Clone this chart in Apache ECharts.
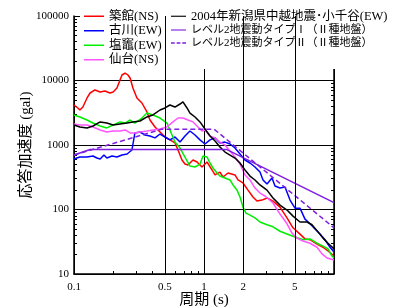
<!DOCTYPE html>
<html>
<head>
<meta charset="utf-8">
<script src="https://cdn.jsdelivr.net/npm/echarts@6.0.0/dist/echarts.min.js"></script>
<style>
html, body { margin: 0; padding: 0; background: #fff; }
#chart { width: 393px; height: 307px; }
</style>
</head>
<body>
<div id="chart"></div>
<script>
// 凡例の名前と色
const seriesNames = [
	"築館(NS)", "古川(EW)", "塩竈(EW)", "仙台(NS)",
	"2004年新潟県中越地震･小千谷(EW)",
	"レベル2地震動タイプⅠ（Ⅱ種地盤）",
	"レベル2地震動タイプⅡ（Ⅱ種地盤）"
]
const seriesColors = ["#ff0000", "#0000ff", "#00ee00", "#ff55ff", "#000000", "#7f1fdf", "#7f1fdf"]

// [周期(s), 応答加速度(gal)]
const tsukidate = [[0.1,4170],[0.107,3750],[0.111,3490],[0.117,3880],[0.126,5360],[0.133,6400],[0.145,7130],[0.159,6640],[0.173,6880],[0.189,6400],[0.2,6640],[0.214,7650],[0.226,10180],[0.234,12170],[0.247,13060],[0.26,12170],[0.27,10940],[0.284,7650],[0.305,5360],[0.333,4480],[0.364,3250],[0.384,2440],[0.42,1900],[0.459,1590],[0.501,1330],[0.547,1200],[0.598,1075],[0.631,836],[0.677,585],[0.714,507],[0.753,490],[0.823,585],[0.884,545],[0.965,456],[1.055,545],[1.152,410],[1.216,343],[1.327,381],[1.4,319],[1.53,368],[1.731,343],[1.826,287],[1.995,258],[2.18,200],[2.381,156],[2.556,135],[2.793,140],[3.052,151],[3.395,135],[3.843,109],[4.35,74],[4.838,52],[5.476,41.5],[5.984,35],[6.538,34],[7.401,29],[8.232,26],[8.994,22.8],[10,19]]
const furukawa = [[0.1,606],[0.111,651],[0.126,651],[0.14,675],[0.15,628],[0.159,606],[0.17,699],[0.179,628],[0.196,675],[0.214,651],[0.234,699],[0.256,725],[0.279,836],[0.294,1540],[0.322,1590],[0.352,1430],[0.384,1380],[0.42,1290],[0.459,1480],[0.501,1330],[0.547,1200],[0.598,1330],[0.654,1110],[0.714,1380],[0.78,1650],[0.853,1430],[0.931,1200],[1.018,1037],[1.112,1200],[1.216,1290],[1.327,1075],[1.451,1110],[1.585,1037],[1.731,898],[1.892,725],[2.067,585],[2.258,526],[2.467,456],[2.696,381],[2.844,287],[3.052,249],[3.335,308],[3.517,231],[3.843,215],[4.199,223],[4.588,140],[5.012,105],[5.476,105],[5.984,71],[6.538,60],[7.144,50],[7.805,41.7],[8.528,34],[9.318,26],[10,22]]
const shiogama = [[0.1,2920],[0.111,2720],[0.126,2440],[0.14,2190],[0.159,1970],[0.179,1840],[0.2,2040],[0.226,2280],[0.247,2190],[0.27,2440],[0.294,2190],[0.333,2620],[0.364,3130],[0.405,2920],[0.459,2620],[0.519,2190],[0.547,1710],[0.598,1110],[0.654,898],[0.714,651],[0.78,472],[0.853,456],[0.931,507],[0.982,675],[1.055,651],[1.112,526],[1.173,440],[1.259,368],[1.327,330],[1.451,308],[1.585,287],[1.671,240],[1.794,200],[1.892,156],[1.995,109],[2.104,88],[2.258,82],[2.467,74],[2.696,64],[3.052,58],[3.395,54],[3.843,46],[4.35,41.7],[5.012,37.5],[5.776,34],[6.538,35],[7.401,30],[8.232,27],[8.994,24.5],[9.653,19],[10,17.7]]
const sendai = [[0.1,2120],[0.111,2040],[0.126,2040],[0.14,1900],[0.159,1710],[0.179,1590],[0.2,1650],[0.226,1650],[0.247,1710],[0.27,1540],[0.294,1540],[0.322,1590],[0.364,1650],[0.405,1710],[0.459,1770],[0.519,1900],[0.577,2280],[0.631,2620],[0.689,2620],[0.753,2440],[0.823,2280],[0.899,1900],[0.965,1650],[1.018,1710],[1.112,1380],[1.216,1290],[1.327,1110],[1.451,1000],[1.585,807],[1.731,651],[1.892,507],[2.067,343],[2.258,287],[2.467,215],[2.696,180],[2.946,162],[3.395,126],[3.843,85],[4.35,60],[4.753,43],[5.192,36],[5.776,32.5],[6.538,30],[7.401,26],[8.086,20.5],[8.835,17.7],[10,16.5]]
const ojiya = [[0.1,2040],[0.111,1900],[0.126,1840],[0.14,1970],[0.159,2280],[0.179,2190],[0.2,2040],[0.226,2120],[0.256,2190],[0.284,2280],[0.322,2355],[0.364,2720],[0.405,2920],[0.459,3490],[0.501,3750],[0.547,4170],[0.598,3880],[0.654,4320],[0.689,4650],[0.74,3750],[0.78,3130],[0.853,2720],[0.931,2280],[1.018,1770],[1.112,1380],[1.216,1150],[1.327,931],[1.451,778],[1.585,699],[1.731,628],[1.892,526],[2.067,410],[2.258,330],[2.467,287],[2.696,240],[3.052,200],[3.395,151],[3.843,117],[4.35,98],[4.838,79],[5.476,64],[6.199,64],[6.773,58],[7.534,45],[8.232,36],[8.994,30],[10,24.5]]
const level2Type1 = [[0.1,700],[0.133,850],[1.5,850],[10,128]]
const level2Type2 = [[0.1,700],[0.47,1750],[1.2,1750],[10,52]]

const seriesData = [tsukidate, furukawa, shiogama, sendai, ojiya, level2Type1, level2Type2]
const periodLabels = [0.1, 0.5, 1, 2, 5]
const periodGridLines = [0.5, 2, 5]

const fontFamily = "'Liberation Serif', 'Noto Sans CJK JP'"
// 凡例の線アイコン（実線・破線）
const solidIcon = 'path://M0,0h20v1.5h-20z'
const dashIcon = 'path://M0,0h4v1.5h-4z M6,0h4v1.5h-4z M12,0h4v1.5h-4z'

let series = seriesData.map((data, i) => ({
	type: 'line',
	name: seriesNames[i],
	data: data,
	symbol: 'none',
	silent: true,
	color: seriesColors[i],
	lineStyle: {
		color: seriesColors[i],
		width: 1.5,
		type: i === 6 ? [5, 3] : 'solid'
	}
}))
// 0.5, 2, 5 秒の縦線
series.unshift({
	type: 'line',
	data: [],
	z: 1,
	markLine: {
		silent: true,
		symbol: 'none',
		label: { show: false },
		lineStyle: { color: '#000', width: 1, type: 'solid' },
		data: periodGridLines.map(v => ({ xAxis: v }))
	}
})

const option = {
	animation: false,
	textStyle: { fontFamily: fontFamily, color: '#000' },
	grid: { left: 74, right: 59, top: 16, bottom: 33, outerBoundsMode: 'none' },
	graphic: [{
		type: 'rect',
		left: 80, top: 0, z: 3,
		shape: { width: 313, height: 69 },
		style: { fill: '#fff' }
	}],
	legend: [
		{
			left: 84, top: 10, orient: 'vertical', padding: 0,
			itemWidth: 20, itemHeight: 12, itemGap: 2,
			data: seriesNames.slice(0, 4).map(n => ({ name: n, icon: solidIcon })),
			textStyle: { fontSize: 12.5, fontFamily: fontFamily, color: '#000' }
		},
		{
			left: 171, top: 10, orient: 'vertical', padding: 0,
			itemWidth: 15, itemHeight: 12, itemGap: 2,
			data: [
				{ name: seriesNames[4], icon: solidIcon, textStyle: { fontSize: 12.5 } },
				{ name: seriesNames[5], icon: solidIcon, textStyle: { fontSize: 11 } },
				{ name: seriesNames[6], icon: dashIcon, textStyle: { fontSize: 11 } }
			],
			textStyle: { fontFamily: fontFamily, color: '#000' }
		}
	],
	xAxis: {
		type: 'log',
		logBase: 10,
		min: 0.1,
		max: 10,
		name: '周期 (s)',
		nameLocation: 'middle',
		nameGap: 19,
		nameMoveOverlap: false,
		nameTextStyle: { fontSize: 15, fontFamily: fontFamily, color: '#000' },
		axisLine: { lineStyle: { color: '#000', width: 1.5 } },
		axisTick: { inside: true, length: 6, lineStyle: { color: '#000' } },
		minorTick: { show: true, splitNumber: 9, length: 3, lineStyle: { color: '#000' } },
		splitLine: { show: true, lineStyle: { color: '#000', width: 1 } },
		axisLabel: {
			customValues: periodLabels,
			formatter: v => String(v),
			fontSize: 11, margin: 8, color: '#000', fontFamily: fontFamily
		}
	},
	yAxis: [
		{
			type: 'log',
			logBase: 10,
			min: 10,
			max: 100000,
			name: '応答加速度 (gal)',
			nameLocation: 'middle',
			nameGap: 40,
			nameMoveOverlap: false,
			nameTextStyle: { fontSize: 15, fontFamily: fontFamily, color: '#000' },
			axisLine: { show: true, lineStyle: { color: '#000', width: 1.5 } },
			axisTick: { show: true, inside: true, length: 7, lineStyle: { color: '#000' } },
			minorTick: { show: true, splitNumber: 9, length: 3, lineStyle: { color: '#000' } },
			splitLine: { show: true, lineStyle: { color: '#000', width: 1 } },
			axisLabel: { formatter: v => String(v), fontSize: 11, margin: 5, color: '#000', fontFamily: fontFamily }
		},
		{
			type: 'log',
			logBase: 10,
			min: 10,
			max: 100000,
			position: 'right',
			axisLine: { show: true, lineStyle: { color: '#000', width: 1.5 } },
			axisTick: { show: true, inside: true, length: 7, lineStyle: { color: '#000' } },
			minorTick: { show: true, splitNumber: 9, length: 3, lineStyle: { color: '#000' } },
			splitLine: { show: false },
			axisLabel: { show: false }
		}
	],
	series: series
}

let myChart = echarts.init(document.getElementById('chart'))
myChart.setOption(option)
</script>
</body>
</html>
